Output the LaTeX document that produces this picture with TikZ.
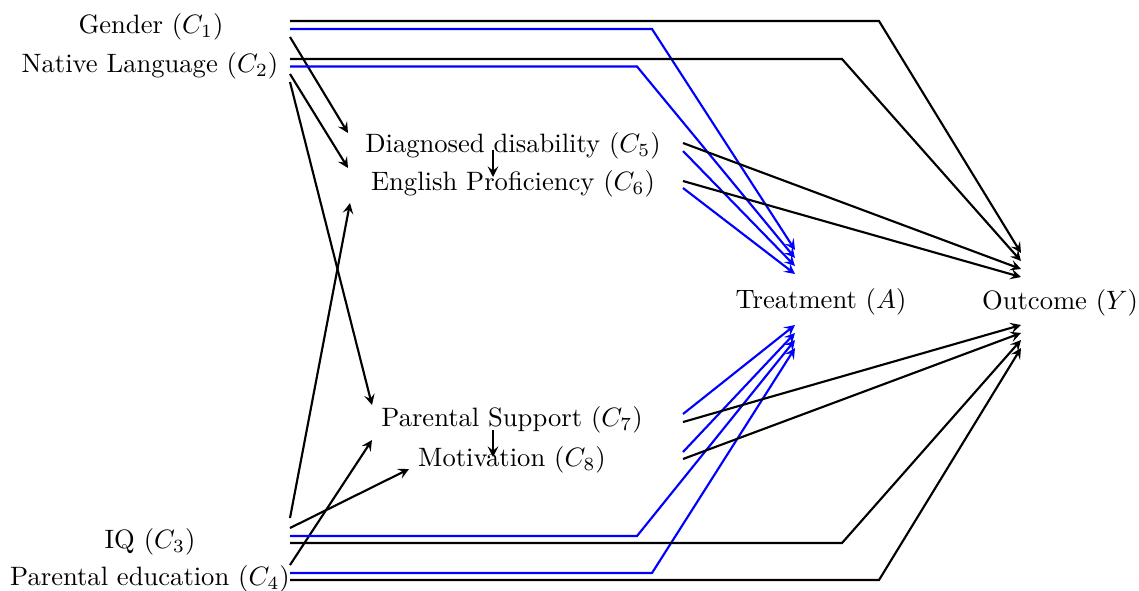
\documentclass[tikz,border=0pt]{standalone}
\usetikzlibrary{arrows.meta}
\begin{document}
\begin{tikzpicture}[
  x=0.376pt, y=-0.376pt,
  var/.style={anchor=base, inner sep=0pt},
  edge/.style={thick, -{Stealth[length=4pt,width=4pt,inset=1.6pt]}, line join=miter},
  toA/.style={edge, blue},
  toY/.style={edge, black},
]
\useasboundingbox (0,0) rectangle (1139,590);

% covariates on the left
\node[var] (C1) at (151,33)  {Gender ($C_1$)};
\node[var] (C2) at (150,72)  {Native Language ($C_2$)};
\node[var] (C3) at (150,548) {IQ ($C_3$)};
\node[var] (C4) at (150,585) {Parental education ($C_4$)};

% intermediate covariates
\node[var] (C5) at (513,152) {Diagnosed disability ($C_5$)};
\node[var] (C6) at (513,190) {English Proficiency ($C_6$)};
\node[var] (C7) at (512,426) {Parental Support ($C_7$)};
\node[var] (C8) at (512,466) {Motivation ($C_8$)};

% treatment and outcome
\node[var] (A) at (821,308)  {Treatment ($A$)};
\node[var] (Y) at (1060,309) {Outcome ($Y$)};

% left covariates -> intermediate covariates
\draw[edge] ([shift={(139,4)}]C1.base)   -- ([shift={(-165,-19)}]C5.base);
\draw[edge] ([shift={(140,2)}]C2.base)   -- ([shift={(-165,-22)}]C6.base);
\draw[edge] ([shift={(140,10)}]C2.base)  -- ([shift={(-140,-21)}]C7.base);
\draw[edge] ([shift={(140,-30)}]C3.base) -- ([shift={(-163,13)}]C6.base);
\draw[edge] ([shift={(140,-20)}]C3.base) -- ([shift={(-103,3)}]C8.base);
\draw[edge] ([shift={(140,-20)}]C4.base) -- ([shift={(-140,14)}]C7.base);

% within-pair arrows
\draw[edge] ([shift={(-20,-2)}]C5.base) -- ([shift={(-20,-13)}]C6.base);
\draw[edge] ([shift={(-19,4)}]C7.base)  -- ([shift={(-19,-9)}]C8.base);

% paths into the treatment
\draw[toA] ([shift={(139,-4)}]C1.base)   -- (652,29)   -- ([shift={(-26,-58)}]A.base);
\draw[toA] ([shift={(140,-5.5)}]C2.base) -- (637,66.5) -- ([shift={(-26,-50)}]A.base);
\draw[toA] ([shift={(170,-1)}]C5.base)  -- ([shift={(-26,-42)}]A.base);
\draw[toA] ([shift={(170,-2)}]C6.base)  -- ([shift={(-26,-34)}]A.base);
\draw[toA] ([shift={(171,-12)}]C7.base) -- ([shift={(-26,17)}]A.base);
\draw[toA] ([shift={(171,-14)}]C8.base) -- ([shift={(-26,25)}]A.base);
\draw[toA] ([shift={(140,-12)}]C3.base) -- (637,536)   -- ([shift={(-26,32)}]A.base);
\draw[toA] ([shift={(140,-12)}]C4.base) -- (652,573)   -- ([shift={(-26,40)}]A.base);

% paths into the outcome
\draw[toY] ([shift={(139,-12)}]C1.base) -- (879,21)  -- ([shift={(-39,-56)}]Y.base);
\draw[toY] ([shift={(140,-13)}]C2.base) -- (842,59)  -- ([shift={(-39,-48)}]Y.base);
\draw[toY] ([shift={(170,-9)}]C5.base)  -- ([shift={(-39,-40)}]Y.base);
\draw[toY] ([shift={(170,-9)}]C6.base)  -- ([shift={(-39,-32)}]Y.base);
\draw[toY] ([shift={(171,-4)}]C7.base)  -- ([shift={(-39,16)}]Y.base);
\draw[toY] ([shift={(171,-7)}]C8.base)  -- ([shift={(-39,24)}]Y.base);
\draw[toY] ([shift={(140,-5)}]C3.base)  -- (842,543) -- ([shift={(-39,31)}]Y.base);
\draw[toY] ([shift={(140,-5)}]C4.base)  -- (879,580) -- ([shift={(-39,39)}]Y.base);
\end{tikzpicture}
\end{document}
